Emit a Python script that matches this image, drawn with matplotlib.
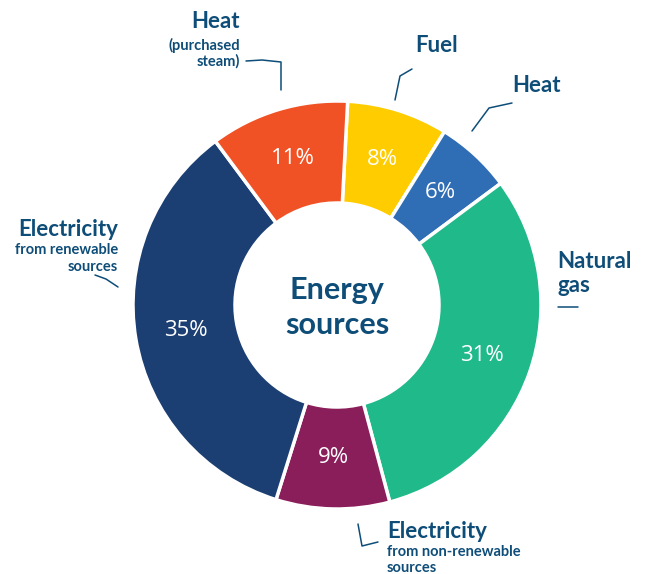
import matplotlib
matplotlib.use("Agg")
import matplotlib.pyplot as plt

categories = ["Fuel", "Heat", "Natural gas", "Electricity from non-renewable sources",
              "Electricity from renewable sources", "Heat (purchased steam)"]
values = [8, 6, 31, 9, 35, 11]
colors = ["#FFCC00", "#2F6DB5", "#20B98A", "#8A1E5A", "#1B3F72", "#F05225"]

TXT = "#0E4D78"
plt.rcParams['font.family'] = ['Lato', 'DejaVu Sans']

W, H = 650, 574
fig = plt.figure(figsize=(6.5, 5.74), dpi=100)
ax = fig.add_axes([0, 0, 1, 1])

cx, cy, R = 337, 305, 204
wedges, texts, autotexts = ax.pie(
    values, colors=colors, startangle=-87, counterclock=True,
    center=(cx, cy), radius=R, autopct='%.0f%%', pctdistance=0.75,
    wedgeprops=dict(width=R * 0.5, edgecolor='white', linewidth=2.5),
    textprops=dict(color='white', fontsize=16, family=['Open Sans', 'DejaVu Sans']),
    frame=True)
ax.set_xlim(0, W)
ax.set_ylim(H, 0)
ax.set_aspect('equal')
ax.axis('off')

ax.text(cx, 290, "Energy", ha='center', va='center', fontsize=22, fontweight='bold', color=TXT)
ax.text(cx, 325, "sources", ha='center', va='center', fontsize=22, fontweight='bold', color=TXT)

def txt(x, y, s, ha='left', size=16, weight='bold'):
    ax.text(x, y, s, ha=ha, va='center', fontsize=size, fontweight=weight, color=TXT)

def leader(pts):
    xs, ys = zip(*pts)
    ax.plot(xs, ys, color=TXT, lw=1.1, solid_capstyle='round')

SUB = 10.5
txt(240, 22, "Heat", ha='right')
txt(240, 45, "(purchased", ha='right', size=SUB)
txt(240, 61, "steam)", ha='right', size=SUB)
leader([(246, 61), (262, 60), (281, 62), (281, 90)])

txt(415, 46, "Fuel")
leader([(412, 69), (400, 76), (395, 100)])

txt(512, 85, "Heat")
leader([(512, 103), (489, 108), (472, 131)])

txt(118, 230, "Electricity", ha='right')
txt(118, 250, "from renewable", ha='right', size=SUB)
txt(118, 267, "sources", ha='right', size=SUB)
leader([(95, 275), (106, 279), (118, 287)])

txt(557, 261, "Natural")
txt(557, 286, "gas")
leader([(558, 307), (578, 307)])

txt(387, 532, "Electricity")
txt(387, 552, "from non-renewable", size=SUB)
txt(387, 568, "sources", size=SUB)
leader([(358, 524), (362, 546), (378, 542)])

fig.savefig("out.png", dpi=100)
